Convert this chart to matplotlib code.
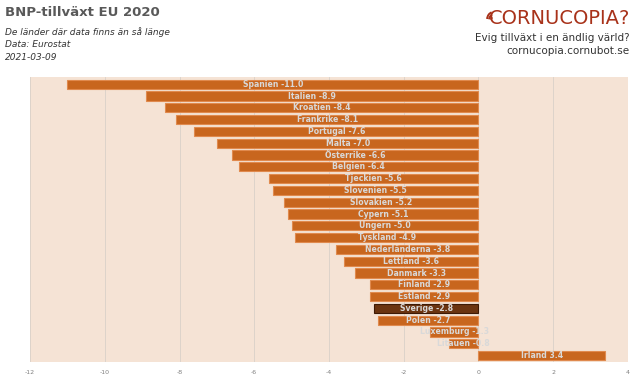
import matplotlib.pyplot as plt
from matplotlib.patches import Arc

# BNP-tillväxt EU 2020, sorted as in the original
countries = ["Spanien", "Italien", "Kroatien", "Frankrike", "Portugal", "Malta",
             "Österrike", "Belgien", "Tjeckien", "Slovenien", "Slovakien", "Cypern",
             "Ungern", "Tyskland", "Nederländerna", "Lettland", "Danmark", "Finland",
             "Estland", "Sverige", "Polen", "Luxemburg", "Litauen", "Irland"]
growth = [-11.0, -8.9, -8.4, -8.1, -7.6, -7.0, -6.6, -6.4, -5.6, -5.5, -5.2, -5.1,
          -5.0, -4.9, -3.8, -3.6, -3.3, -2.9, -2.9, -2.8, -2.7, -1.3, -0.8, 3.4]
xticks = [-12, -10, -8, -6, -4, -2, 0, 2, 4]

orange = "#C8661E"
edge = "#E08A4E"
sweden = "#6B3410"
bg = "#F5E3D5"
logo = "#A8321A"

fig = plt.figure(figsize=(6.4, 3.86), dpi=100)
ax = fig.add_axes([0.047, 0.062, 0.934, 0.738])
ax.set_facecolor(bg)

ypos = list(range(len(countries)))
colors = [sweden if c == "Sverige" else orange for c in countries]
edges = ["#3D1A05" if c == "Sverige" else edge for c in countries]
ax.barh(ypos, growth, height=0.78, color=colors, edgecolor=edges, linewidth=0.8, zorder=3)

for y, c, v in zip(ypos, countries, growth):
    ax.text(v / 2, y, f"{c} {v:.1f}", ha="center", va="center", fontsize=5.6,
            fontweight="bold", color="#D9D9D9", zorder=4)

ax.set_xlim(-12, 4)
ax.set_ylim(len(countries) - 0.45, -0.6)
ax.set_xticks(xticks)
ax.set_xticklabels([str(t) for t in xticks], fontsize=4.5, color="#808080")
ax.tick_params(axis="x", length=0, pad=6)
ax.set_yticks([])
ax.grid(axis="x", color="#D9D0C8", linewidth=0.6, zorder=0)
for s in ax.spines.values():
    s.set_visible(False)

# header texts
fig.text(0.008, 0.968, "BNP-tillväxt EU 2020", fontsize=9.5, color="#595959",
         fontweight="bold", va="center")
fig.text(0.008, 0.918, "De länder där data finns än så länge", fontsize=6.5,
         style="italic", color="#333333", va="center")
fig.text(0.008, 0.885, "Data: Eurostat", fontsize=6.5, style="italic", color="#333333", va="center")
fig.text(0.008, 0.851, "2021-03-09", fontsize=6.5, style="italic", color="#333333", va="center")

# logo
fig.text(0.984, 0.952, "CORNUCOPIA?", fontsize=14, color=logo, ha="right", va="center")
icon = fig.add_axes([480 / 640, 1 - 24 / 386, 14 / 640, 20 / 386])
icon.set_xlim(0, 14)
icon.set_ylim(0, 20)
icon.axis("off")
for r in [4, 8, 12]:
    icon.add_patch(Arc((13, 4), r, r * 1.3, theta1=100, theta2=170,
                       color=logo, linewidth=1.4, clip_on=False))
fig.text(0.984, 0.902, "Evig tillväxt i en ändlig värld?", fontsize=7.5, color="#333333",
         ha="right", va="center")
fig.text(0.984, 0.868, "cornucopia.cornubot.se", fontsize=7.5, color="#333333",
         ha="right", va="center")

fig.savefig("out.png", dpi=100, facecolor="white")
